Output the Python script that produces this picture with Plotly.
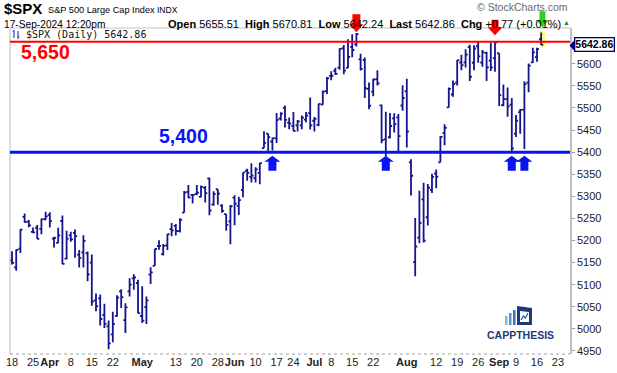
import numpy as np
import plotly.graph_objects as go

# ---------------- data ----------------
dates = [
    "2024-03-18", "2024-03-19", "2024-03-20", "2024-03-21", "2024-03-22",
    "2024-03-25", "2024-03-26", "2024-03-27", "2024-03-28",
    "2024-04-01", "2024-04-02", "2024-04-03", "2024-04-04", "2024-04-05",
    "2024-04-08", "2024-04-09", "2024-04-10", "2024-04-11", "2024-04-12",
    "2024-04-15", "2024-04-16", "2024-04-17", "2024-04-18", "2024-04-19",
    "2024-04-22", "2024-04-23", "2024-04-24", "2024-04-25", "2024-04-26",
    "2024-04-29", "2024-04-30", "2024-05-01", "2024-05-02", "2024-05-03",
    "2024-05-06", "2024-05-07", "2024-05-08", "2024-05-09", "2024-05-10",
    "2024-05-13", "2024-05-14", "2024-05-15", "2024-05-16", "2024-05-17",
    "2024-05-20", "2024-05-21", "2024-05-22", "2024-05-23", "2024-05-24",
    "2024-05-28", "2024-05-29", "2024-05-30", "2024-05-31",
    "2024-06-03", "2024-06-04", "2024-06-05", "2024-06-06", "2024-06-07",
    "2024-06-10", "2024-06-11", "2024-06-12", "2024-06-13", "2024-06-14",
    "2024-06-17", "2024-06-18", "2024-06-20", "2024-06-21",
    "2024-06-24", "2024-06-25", "2024-06-26", "2024-06-27", "2024-06-28",
    "2024-07-01", "2024-07-02", "2024-07-03", "2024-07-05",
    "2024-07-08", "2024-07-09", "2024-07-10", "2024-07-11", "2024-07-12",
    "2024-07-15", "2024-07-16", "2024-07-17", "2024-07-18", "2024-07-19",
    "2024-07-22", "2024-07-23", "2024-07-24", "2024-07-25", "2024-07-26",
    "2024-07-29", "2024-07-30", "2024-07-31", "2024-08-01", "2024-08-02",
    "2024-08-05", "2024-08-06", "2024-08-07", "2024-08-08", "2024-08-09",
    "2024-08-12", "2024-08-13", "2024-08-14", "2024-08-15", "2024-08-16",
    "2024-08-19", "2024-08-20", "2024-08-21", "2024-08-22", "2024-08-23",
    "2024-08-26", "2024-08-27", "2024-08-28", "2024-08-29", "2024-08-30",
    "2024-09-03", "2024-09-04", "2024-09-05", "2024-09-06",
    "2024-09-09", "2024-09-10", "2024-09-11", "2024-09-12", "2024-09-13",
    "2024-09-16", "2024-09-17",
]
opens = [
    5154.77, 5139.09, 5181.69, 5253.43, 5242.48, 5219.52, 5228.85, 5226.31, 5248.03,
    5257.97, 5204.29, 5194.37, 5244.05, 5158.95, 5211.37, 5217.03, 5167.88, 5172.95, 5171.51,
    5149.67, 5064.59, 5068.97, 5031.52, 5005.44, 4987.33, 5028.85, 5084.86, 5019.88, 5084.65,
    5114.13, 5103.78, 5029.03, 5049.32, 5122.78, 5142.42, 5187.20, 5168.98, 5189.03, 5225.49,
    5233.08, 5221.10, 5263.26, 5310.07, 5303.10, 5305.35, 5298.69, 5319.28, 5340.26, 5281.45,
    5315.91, 5278.73, 5259.77, 5243.21, 5297.15, 5278.24, 5314.48, 5357.80, 5343.81,
    5341.22, 5353.00, 5409.13, 5441.93, 5424.08, 5431.11, 5476.15, 5499.99, 5466.77,
    5459.58, 5460.73, 5460.71, 5473.59, 5488.48, 5471.08, 5461.84, 5507.44, 5537.91,
    5572.75, 5584.24, 5591.26, 5635.21, 5590.76, 5638.16, 5644.09, 5610.07, 5608.56, 5543.37,
    5537.00, 5565.30, 5505.84, 5428.70, 5433.67, 5476.55, 5478.73, 5505.59, 5537.84, 5376.63,
    5151.14, 5206.42, 5293.13, 5252.57, 5314.63, 5351.65, 5376.98, 5442.83, 5501.13, 5530.50,
    5557.23, 5602.88, 5603.09, 5637.77, 5602.29, 5639.66, 5602.89, 5624.51, 5607.30, 5612.74,
    5623.89, 5506.68, 5520.08, 5507.33, 5442.07, 5490.51, 5496.42, 5557.48, 5603.34,
    5615.21, 5655.51,
]
highs = [
    5175.60, 5180.31, 5226.19, 5261.10, 5246.09, 5229.09, 5235.16, 5249.26, 5264.85,
    5263.95, 5208.34, 5228.75, 5256.59, 5222.18, 5219.57, 5224.81, 5178.43, 5211.78, 5175.03,
    5168.43, 5079.84, 5077.96, 5056.66, 5019.02, 5038.84, 5076.12, 5089.48, 5057.75, 5114.62,
    5123.49, 5110.83, 5096.12, 5073.21, 5139.12, 5181.00, 5200.23, 5191.95, 5214.53, 5239.66,
    5237.26, 5250.37, 5311.76, 5325.49, 5305.45, 5325.32, 5324.32, 5323.18, 5341.88, 5311.65,
    5315.91, 5282.27, 5260.21, 5280.33, 5302.11, 5298.80, 5354.16, 5362.35, 5375.08,
    5365.79, 5375.95, 5447.25, 5441.93, 5432.39, 5488.50, 5490.38, 5505.53, 5478.31,
    5490.66, 5472.88, 5483.14, 5490.81, 5523.64, 5479.55, 5509.69, 5539.27, 5570.33,
    5583.11, 5590.75, 5635.39, 5642.45, 5655.56, 5666.94, 5669.67, 5622.49, 5614.05, 5557.50,
    5566.16, 5585.34, 5508.04, 5491.59, 5488.32, 5487.74, 5486.55, 5551.51, 5566.16, 5383.89,
    5250.89, 5312.34, 5330.64, 5328.03, 5351.17, 5360.59, 5436.50, 5463.22, 5546.23, 5561.98,
    5608.30, 5620.51, 5632.68, 5643.22, 5641.82, 5651.62, 5631.18, 5627.03, 5646.95, 5651.37,
    5623.89, 5552.99, 5546.30, 5522.47, 5484.20, 5497.91, 5560.41, 5600.71, 5636.27,
    5636.05, 5670.81,
]
lows = [
    5145.47, 5131.59, 5171.55, 5240.66, 5229.87, 5216.09, 5203.42, 5213.92, 5245.82,
    5229.20, 5184.05, 5194.37, 5146.06, 5157.21, 5197.35, 5160.78, 5138.70, 5138.77, 5107.94,
    5052.47, 5039.83, 5007.25, 5001.89, 4953.56, 4969.40, 5027.96, 5047.02, 4990.58, 5073.14,
    5088.65, 5035.31, 5013.45, 5011.05, 5101.22, 5142.42, 5178.96, 5165.86, 5178.36, 5209.68,
    5211.16, 5217.98, 5263.26, 5296.19, 5283.59, 5302.40, 5297.87, 5286.01, 5256.93, 5278.39,
    5280.89, 5262.70, 5222.10, 5191.68, 5234.32, 5257.63, 5297.64, 5335.36, 5331.33,
    5331.52, 5327.25, 5409.13, 5402.51, 5403.75, 5420.40, 5471.32, 5455.56, 5452.03,
    5447.59, 5446.56, 5451.87, 5467.54, 5451.12, 5446.53, 5458.43, 5507.42, 5531.63,
    5562.51, 5574.57, 5586.44, 5576.53, 5590.44, 5614.75, 5639.02, 5584.81, 5522.81, 5497.04,
    5526.22, 5550.90, 5419.98, 5390.95, 5430.70, 5444.44, 5401.75, 5493.75, 5410.42, 5302.03,
    5119.26, 5193.56, 5195.54, 5233.85, 5307.64, 5318.41, 5376.98, 5415.69, 5501.13, 5525.17,
    5550.74, 5585.50, 5591.57, 5560.95, 5585.16, 5602.34, 5593.48, 5560.95, 5583.71, 5581.79,
    5504.33, 5503.66, 5480.10, 5402.62, 5434.49, 5441.72, 5406.96, 5535.50, 5601.65,
    5604.53, 5642.24,
]
closes = [
    5149.42, 5178.51, 5224.62, 5241.53, 5234.18, 5218.19, 5203.58, 5248.49, 5254.35,
    5243.77, 5205.81, 5211.49, 5147.21, 5204.34, 5202.39, 5209.91, 5160.64, 5199.06, 5123.41,
    5061.82, 5051.41, 5022.21, 5011.12, 4967.23, 5010.60, 5070.55, 5071.63, 5048.42, 5099.96,
    5116.17, 5035.69, 5018.39, 5064.20, 5127.79, 5180.74, 5187.70, 5187.67, 5214.08, 5222.68,
    5221.42, 5246.68, 5308.15, 5297.10, 5303.27, 5308.13, 5321.41, 5307.01, 5267.84, 5304.72,
    5306.04, 5266.95, 5235.48, 5277.51, 5283.40, 5291.34, 5354.03, 5352.96, 5346.99,
    5360.79, 5375.32, 5421.03, 5433.74, 5431.60, 5473.23, 5487.03, 5473.17, 5464.62,
    5447.87, 5469.30, 5477.90, 5482.87, 5460.48, 5475.09, 5509.01, 5537.02, 5567.19,
    5572.85, 5576.98, 5633.91, 5584.54, 5615.35, 5631.22, 5667.20, 5588.27, 5544.59, 5505.00,
    5564.41, 5555.74, 5427.13, 5399.22, 5459.10, 5463.54, 5436.44, 5522.30, 5446.68, 5346.56,
    5186.33, 5240.03, 5199.50, 5319.31, 5344.16, 5344.39, 5434.43, 5455.21, 5543.22, 5554.25,
    5608.25, 5597.12, 5620.85, 5570.64, 5634.61, 5616.84, 5625.80, 5592.18, 5591.96, 5648.40,
    5528.93, 5520.07, 5503.41, 5408.42, 5471.05, 5495.52, 5554.13, 5595.76, 5626.02,
    5633.09, 5642.86,
]
market_holidays = ["2024-03-29", "2024-05-27", "2024-06-19", "2024-07-04", "2024-09-02"]

tick_dates = ["2024-03-18", "2024-03-25", "2024-04-01", "2024-04-08", "2024-04-15", "2024-04-22",
              "2024-05-01", "2024-05-13", "2024-05-20", "2024-05-28", "2024-06-03", "2024-06-10",
              "2024-06-17", "2024-06-24", "2024-07-01", "2024-07-08", "2024-07-15", "2024-07-22",
              "2024-08-01", "2024-08-12", "2024-08-19", "2024-08-26", "2024-09-03", "2024-09-09",
              "2024-09-16", "2024-09-23"]
tick_labels = ["18", "25", "<b>Apr</b>", "8", "15", "22", "<b>May</b>", "13", "20", "28",
               "<b>Jun</b>", "10", "17", "24", "<b>Jul</b>", "8", "15", "22", "<b>Aug</b>",
               "12", "19", "26", "<b>Sep</b>", "9", "16", "23"]

resistance = 5650
support = 5400
y_ticks = list(range(4950, 5601, 50))
Y_MIN, Y_MAX = 4943, 5681
X_MIN, X_MAX = -0.48, 132.86

# trading-day index as x coordinate (StockCharts spaces bars by session)
def session_index(d):
    return int(np.busday_count(dates[0], d, holidays=market_holidays))

x_idx = [session_index(d) for d in dates]
tick_pos = [session_index(d) for d in tick_dates]

# ---------------- layout geometry ----------------
W, H = 617, 373
L, R, T, B = 10, 570, 28, 354

def px(x):
    return (x - L) / (R - L)

def py(y):
    return (B - y) / (B - T)

def yfrac(v):
    return (v - Y_MIN) / (Y_MAX - Y_MIN)

FONT = "Liberation Sans, Arial, sans-serif"
BAR = "#14148c"

fig = go.Figure()
fig.add_trace(go.Ohlc(
    x=x_idx, open=opens, high=highs, low=lows, close=closes,
    increasing=dict(line=dict(color=BAR, width=1.8)),
    decreasing=dict(line=dict(color=BAR, width=1.8)),
    tickwidth=0.5, showlegend=False, hoverinfo="skip",
))

shapes = []
last = len(dates) - 1
# yellow highlight on last bar
shapes.append(dict(type="rect", xref="x", yref="y", x0=x_idx[last] - 0.35, x1=x_idx[last] + 0.9,
                   y0=lows[last] - 7, y1=highs[last] + 2, fillcolor="#ffff80",
                   line=dict(width=0), layer="below"))
# frame
shapes.append(dict(type="line", xref="paper", yref="paper", x0=0, x1=0, y0=0, y1=1,
                   line=dict(color="#c4c4c4", width=1.2)))
shapes.append(dict(type="line", xref="paper", yref="paper", x0=0, x1=1, y0=1, y1=1,
                   line=dict(color="#c4c4c4", width=1.2)))
shapes.append(dict(type="line", xref="paper", yref="paper", x0=0, x1=1, y0=0, y1=0,
                   line=dict(color="#a0a0a0", width=1, dash="dot")))
# horizontal levels
shapes.append(dict(type="line", xref="paper", yref="y", x0=0, x1=1, y0=resistance, y1=resistance,
                   line=dict(color="#ff0000", width=2)))
shapes.append(dict(type="line", xref="paper", yref="y", x0=0, x1=1, y0=support, y1=support,
                   line=dict(color="#0a14f0", width=3)))


def arrow(xi, level, tip, base, end, head_hw, stem_hw, color):
    """Arrow anchored at bar index xi and price level; offsets in pixels (up positive)."""
    path = (f"M 0 {tip} L {-head_hw} {base} L {-stem_hw} {base} L {-stem_hw} {end} "
            f"L {stem_hw} {end} L {stem_hw} {base} L {head_hw} {base} Z")
    return dict(type="path", xref="x", yref="paper", xsizemode="pixel", ysizemode="pixel",
                xanchor=xi, yanchor=yfrac(level), path=path, fillcolor=color,
                line=dict(width=0))

i_jul16 = session_index("2024-07-16")
i_aug30 = session_index("2024-08-30")
i_sep17 = session_index("2024-09-17")
shapes.append(arrow(i_jul16, resistance, 9.5, 17.5, 27.5, 7, 4, "#ff0000"))
shapes.append(arrow(i_aug30, resistance, 6.5, 14.5, 22, 7.5, 3.5, "#ff0000"))
shapes.append(arrow(i_sep17 + 0.3, resistance, 14.5, 21.8, 30.5, 6.5, 3, "#33cc22"))
for d in ["2024-06-14", "2024-07-25", "2024-09-06", "2024-09-11"]:
    shapes.append(arrow(session_index(d), support, -3.5, -9.5, -18.5, 8, 4, "#0a14f0"))


def pix_path(ax, ay, pts, color, width=0, fill=True):
    p = "M " + " L ".join(f"{x - ax} {ay - y}" for x, y in pts)
    if fill:
        p += " Z"
    d = dict(type="path", xref="paper", yref="paper", xsizemode="pixel", ysizemode="pixel",
             xanchor=px(ax), yanchor=py(ay), path=p)
    if fill:
        d.update(fillcolor=color, line=dict(width=0))
    else:
        d.update(line=dict(color=color, width=width))
    return d

# legend icon (two tiny bars)
shapes.append(pix_path(13, 34, [(14, 30), (14, 38)], "#2a3cc8", 1.2, fill=False))
shapes.append(pix_path(13, 34, [(12.5, 31), (14, 31)], "#2a3cc8", 1.2, fill=False))
shapes.append(pix_path(13, 34, [(18, 31), (18, 39)], "#2a3cc8", 1.2, fill=False))
shapes.append(pix_path(13, 34, [(18, 37), (19.5, 37)], "#2a3cc8", 1.2, fill=False))

# price tag pointer
shapes.append(pix_path(570, 45.5, [(569.5, 45.5), (574, 40.5), (574, 50.5)], "#000080"))

# CAPP THESIS logo
shapes.append(pix_path(505, 325, [(505, 316), (507.5, 316), (507.5, 325), (505, 325)], "#8ab4e0"))
shapes.append(pix_path(505, 325, [(509, 313), (511.5, 313), (511.5, 325), (509, 325)], "#5b8fd0"))
shapes.append(pix_path(505, 325, [(513, 310), (515.5, 310), (515.5, 325), (513, 325)], "#3a6fc0"))
shapes.append(pix_path(517, 325, [(517, 306), (532, 308), (532, 325), (517, 325)], "#1f3a78"))
shapes.append(pix_path(517, 325, [(520, 311), (529, 312), (529, 322), (520, 322)], "#ffffff"))
shapes.append(pix_path(521, 320, [(521, 320), (523.5, 316), (525.5, 318), (528, 313)], "#2a5bb0", 1.3,
                       fill=False))

annotations = []

def ann(x, y, text, size, color="#000000", xanchor="left", family=FONT, **kw):
    annotations.append(dict(xref="paper", yref="paper", x=px(x), y=py(y), text=text,
                            showarrow=False, xanchor=xanchor, yanchor="middle",
                            font=dict(family=family, size=size, color=color), **kw))

ann(2, 9, "<b>$SPX</b>", 15)
ann(46, 10, "S&P 500 Large Cap Index", 9.2)
ann(155, 10.5, "INDX", 8.5)
ann(2, 24, "17-Sep-2024 12:20pm", 10.2)
ann(166, 24, f"<b>Open</b> {opens[last]:.2f}  <b>High</b> {highs[last]:.2f}  <b>Low</b> {lows[last]:.2f}  "
             f"<b>Last</b> {closes[last]:.2f}  <b>Chg</b> +0.77 (+0.01%)", 11)
ann(566, 22, "▲", 7, color="#2e7d32", xanchor="center")
ann(570, 7, "© StockCharts.com", 10.5, color="#6a6a6a", xanchor="right")
ann(24, 34, f"$SPX (Daily) {closes[last]:.2f}", 10, color="#111111",
    family="DejaVu Sans Mono, monospace")
ann(19, 52, f"<b>{resistance:,}</b>", 19.5, color="#ff0000")
ann(157, 136, f"<b>{support:,}</b>", 19.5, color="#0a14f0")
ann(520, 335, "<b>CAPPTHESIS</b>", 10.5, color="#1f3a78", xanchor="center")
# price tag
annotations.append(dict(xref="paper", yref="y", x=px(574), y=closes[last], text=f"<b>{closes[last]:.2f}</b>",
                        showarrow=False, xanchor="left", yanchor="middle",
                        font=dict(family=FONT, size=10.5, color="#000000"),
                        bgcolor="#ffffff", bordercolor="#000080", borderwidth=1.3, borderpad=0))

fig.update_layout(
    width=W, height=H,
    margin=dict(l=L, r=W - R, t=T, b=H - B, autoexpand=False),
    paper_bgcolor="#ffffff", plot_bgcolor="#ffffff",
    shapes=shapes, annotations=annotations,
    showlegend=False,
    xaxis=dict(range=[X_MIN, X_MAX], tickvals=tick_pos, ticktext=tick_labels, tickangle=0,
               showgrid=False, zeroline=False, showline=False, ticks="",
               tickfont=dict(family=FONT, size=11, color="#222222"),
               rangeslider=dict(visible=False), fixedrange=True),
    yaxis=dict(side="right", range=[Y_MIN, Y_MAX], tickvals=y_ticks,
               showgrid=False, zeroline=False, showline=True, linecolor="#c0c0c0", linewidth=1.5,
               ticks="outside", ticklen=3, tickcolor="#a0a0a0", tickwidth=1,
               tickfont=dict(family=FONT, size=11, color="#222222"), fixedrange=True),
)

fig.write_html("out.html", config={"displayModeBar": False},
               post_script="document.body.style.margin='0';document.body.style.overflow='hidden';")
